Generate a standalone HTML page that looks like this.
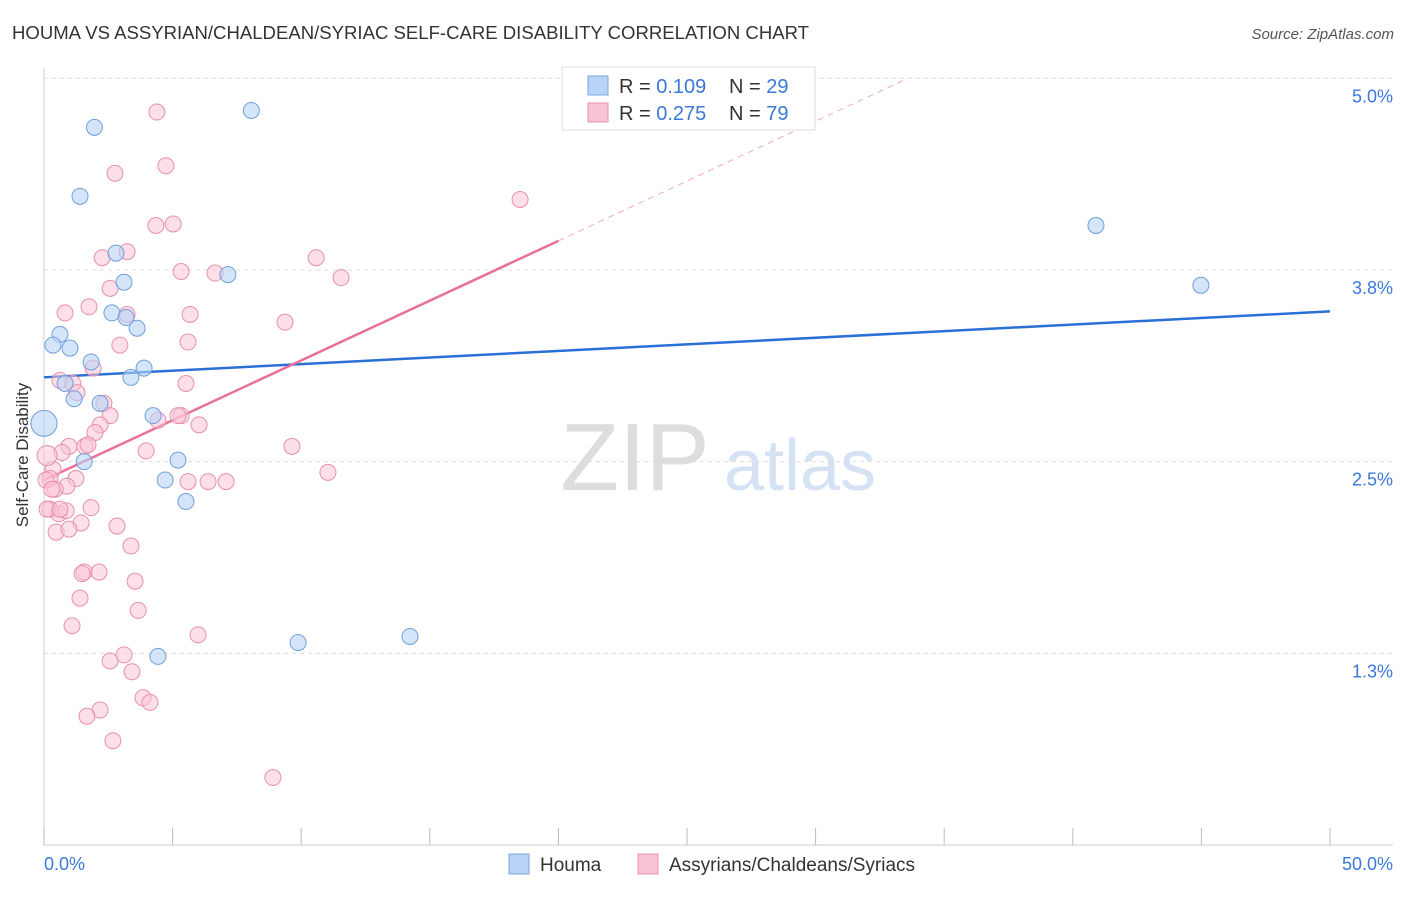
<!DOCTYPE html>
<html><head><meta charset="utf-8"><style>
body{margin:0;background:#fff;font-family:"Liberation Sans",sans-serif;}
svg text{font-family:"Liberation Sans",sans-serif;}
</style></head><body>
<svg id="chart" width="1406" height="892">
<text x="12" y="39" font-size="18.5" fill="#333" textLength="797" lengthAdjust="spacingAndGlyphs">HOUMA VS ASSYRIAN/CHALDEAN/SYRIAC SELF-CARE DISABILITY CORRELATION CHART</text>
<text x="1394" y="39" font-size="15" fill="#555" font-style="italic" text-anchor="end">Source: ZipAtlas.com</text>
<text x="28" y="455" font-size="17" fill="#333" text-anchor="middle" transform="rotate(-90 28 455)">Self-Care Disability</text>
<g>
<text x="635" y="490" font-size="96" fill="#ddd" text-anchor="middle" font-family="Liberation Serif">ZIP</text>
<text x="800" y="490" font-size="72" fill="#d4e2f4" text-anchor="middle">atlas</text>
</g>
<g id="grid"></g><g id="axes"></g><g id="lines"></g><g id="pts"></g>
<g>
<rect x="562" y="67" width="253" height="63" fill="#fff" stroke="#ddd"/>
<rect x="588" y="76" width="20" height="19" fill="#b8d3f5" stroke="#7aa7e0"/>
<rect x="588" y="103" width="20" height="19" fill="#f9c5d5" stroke="#e890ab"/>
<text x="619" y="93" font-size="20" fill="#333">R = <tspan fill="#3b78d8">0.109</tspan></text>
<text x="729" y="93" font-size="20" fill="#333">N = <tspan fill="#3b78d8">29</tspan></text>
<text x="619" y="120" font-size="20" fill="#333">R = <tspan fill="#3b78d8">0.275</tspan></text>
<text x="729" y="120" font-size="20" fill="#333">N = <tspan fill="#3b78d8">79</tspan></text>
</g>
<g>
<rect x="509" y="854" width="20" height="20" fill="#b8d3f5" stroke="#7aa7e0"/>
<text x="540" y="871" font-size="19" fill="#333">Houma</text>
<rect x="638" y="854" width="20" height="20" fill="#f9c5d5" stroke="#e890ab"/>
<text x="669" y="871" font-size="19" fill="#333">Assyrians/Chaldeans/Syriacs</text>
</g>
</svg>
<script>
const yTicks=[1.25,2.5,3.75,5.0];
const yTickLabels=["1.3%","2.5%","3.8%","5.0%"];
const xTickLabels=["0.0%","50.0%"];
const houmaX=[1.96,8.06,1.40,2.80,3.11,7.15,2.64,3.19,3.62,0.62,0.35,1.01,1.83,3.89,3.38,0.82,1.17,2.18,4.24,5.21,1.56,4.71,5.52,4.43,9.88,14.23,40.90,44.98,0];
const houmaY=[4.68,4.79,4.23,3.86,3.67,3.72,3.47,3.44,3.37,3.33,3.26,3.24,3.15,3.11,3.05,3.01,2.91,2.88,2.80,2.51,2.50,2.38,2.24,1.23,1.32,1.36,4.04,3.65,2.75];
const asX=[4.39,4.74,2.76,18.51,4.35,5.02,3.23,2.26,5.33,6.65,10.58,11.55,2.57,0.82,1.75,3.23,5.68,9.37,2.95,5.60,1.91,0.62,1.12,5.52,1.28,2.33,2.57,5.33,5.21,4.43,6.03,2.18,1.98,0.97,1.59,3.97,9.64,0.70,1.71,0.35,11.04,0.23,5.60,6.38,7.08,1.24,0.89,0.43,1.83,0.23,0.58,0.86,1.44,2.84,0.47,0.97,3.38,1.56,1.48,2.14,3.54,1.40,3.66,1.09,5.99,3.11,2.57,3.42,3.85,4.12,2.18,1.67,2.68,8.90,0.12,0.08,0.12,0.62,0.31];
const asY=[4.78,4.43,4.38,4.21,4.04,4.05,3.87,3.83,3.74,3.73,3.83,3.70,3.63,3.47,3.51,3.46,3.46,3.41,3.26,3.28,3.11,3.03,3.01,3.01,2.95,2.88,2.80,2.80,2.80,2.77,2.74,2.74,2.69,2.60,2.60,2.57,2.60,2.56,2.61,2.45,2.43,2.39,2.37,2.37,2.37,2.39,2.34,2.32,2.20,2.19,2.16,2.18,2.10,2.08,2.04,2.06,1.95,1.78,1.77,1.78,1.72,1.61,1.53,1.43,1.37,1.24,1.20,1.13,0.96,0.93,0.88,0.84,0.68,0.44,2.54,2.38,2.19,2.19,2.32];
const X=v=>44+v/50*1286, Y=v=>845-v/5*766.7;
const NS="http://www.w3.org/2000/svg";
function mk(p,t,a){const e=document.createElementNS(NS,t);for(const k in a)e.setAttribute(k,a[k]);document.getElementById(p).appendChild(e);return e;}
yTicks.forEach((v,i)=>{
 const g=mk('grid','line',{x1:44,x2:1393,y1:Y(v),y2:Y(v),stroke:'#ddd','stroke-dasharray':'4,4'});
 
 
 const t=mk('axes','text',{x:1393,y:Y(v)+24,'font-size':18,fill:'#3b78d8','text-anchor':'end'});
 t.textContent=yTickLabels[i];
 
 
});
mk('axes','line',{x1:44,x2:44,y1:68,y2:845,stroke:'#ccc'});
mk('axes','line',{x1:44,x2:1393,y1:845,y2:845,stroke:'#ccc'});
for(let i=0;i<=10;i++){mk('axes','line',{x1:X(i*5),x2:X(i*5),y1:828,y2:845,stroke:'#bbb'});}
const xl0=mk('axes','text',{x:44,y:870,'font-size':18,fill:'#3b78d8'});xl0.textContent=xTickLabels[0];


const xl1=mk('axes','text',{x:1393,y:870,'font-size':18,fill:'#3b78d8','text-anchor':'end'});xl1.textContent=xTickLabels[1];


const hb=[3.05,0.0086], ab=[2.38,0.078];
const bl=mk('lines','line',{x1:X(0),y1:Y(hb[0]),x2:X(50),y2:Y(hb[0]+hb[1]*50),stroke:'#2a6fd6','stroke-width':2.5});


const pl=mk('lines','line',{x1:X(0),y1:Y(ab[0]),x2:X(20),y2:Y(ab[0]+ab[1]*20),stroke:'#e8709a','stroke-width':2.5});


const xe=(5-ab[0])/ab[1];
const pd=mk('lines','line',{x1:X(20),y1:Y(ab[0]+ab[1]*20),x2:X(xe),y2:Y(5),stroke:'#f0a8c0','stroke-width':1,'stroke-dasharray':'6,5'});


asX.forEach((v,i)=>{const c=mk('pts','circle',{cx:X(v),cy:Y(asY[i]),r:i==74?10:8,fill:'#f9c5d5','fill-opacity':0.55,stroke:'#e890ab','stroke-width':1});
 
 });
houmaX.forEach((v,i)=>{const c=mk('pts','circle',{cx:X(v),cy:Y(houmaY[i]),r:i==28?13:8,fill:'#b8d3f5','fill-opacity':0.6,stroke:'#6f9fdc','stroke-width':1});
 
 });
</script>
</body></html>
